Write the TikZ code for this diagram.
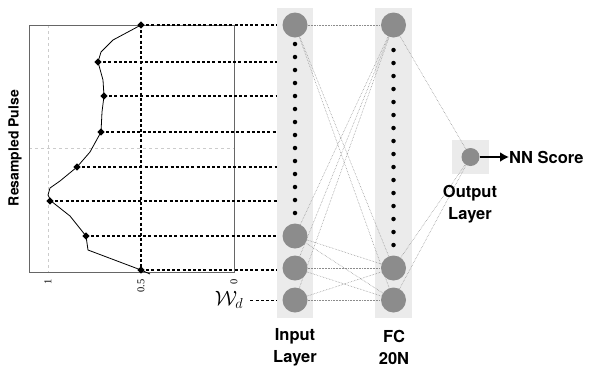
\documentclass[tikz,border=0pt]{standalone}
\usepackage{fontspec}
\setsansfont{TeX Gyre Heros}
\newfontfamily\tickfont{Liberation Serif}
\usetikzlibrary{shapes.geometric,arrows.meta}
\tikzset{
  colbox/.style={fill=black!8, draw=none, inner sep=0},
  neuron/.style={circle, fill=black!45, draw=none, minimum size=25pt, inner sep=0},
  smallneuron/.style={circle, fill=black!45, draw=none, minimum size=18pt, inner sep=0},
  dia/.style={diamond, fill=black, draw=none, minimum size=7.5pt, inner sep=0},
  bdash/.style={draw=black, line width=1.3pt, dash pattern=on 3pt off 2.2pt},
  conn/.style={draw=black!45, line width=0.55pt, densely dotted},
  grid/.style={draw=black!20, line width=0.5pt, dashed},
  lbl/.style={font=\sffamily\bfseries\fontsize{16.5}{22}\selectfont, align=center, inner sep=0},
  tick/.style={font=\tickfont\fontsize{10.5}{12}\selectfont, rotate=90, anchor=east, inner sep=0},
  vdot/.style={circle, fill=black, inner sep=0, minimum size=4.5pt},
}
\begin{document}
\begin{tikzpicture}[x=1pt,y=-1pt]
\useasboundingbox (0,0) rectangle (589,368);
% plot
\draw[grid] (48,25) -- (48,272);
\draw[grid] (29,148) -- (234,148);
\draw[black!60, line width=1pt] (29,25) rectangle (234,272);
\node[tick] (t1) at (48,279) {1};
\node[tick] (t2) at (141,279) {0.5};
\node[tick] (t3) at (234,279) {0};
\node[font=\sffamily\bfseries\fontsize{14}{16}\selectfont, rotate=90, inner sep=0] (ylab) at (15,148) {Resampled Pulse};
% curve
\draw[black, line width=0.8pt] (141,25) -- (113,40) -- (101,52) -- (98,62) -- (103,80) -- (104,96) -- (102,112) -- (101,132) -- (90,152) -- (77,167) -- (60,181) -- (50,188) -- (48,195) -- (51,201) -- (70,216) -- (86,236) -- (88,250) -- (141,270) -- (150,274);
% columns
\node[colbox, minimum width=36pt, minimum height=310pt] (incol) at (295,163) {};
\node[colbox, minimum width=37pt, minimum height=310pt] (fccol) at (393.5,163) {};
\node[colbox, minimum width=37pt, minimum height=34pt] (outcol) at (470.5,157) {};
% neurons
\node[neuron] (i1) at (295,25) {};
\node[neuron] (i2) at (295,236) {};
\node[neuron] (i3) at (295,268) {};
\node[neuron] (i4) at (295,300) {};
\node[neuron] (f1) at (393.5,25) {};
\node[neuron] (f2) at (393.5,268) {};
\node[neuron] (f3) at (393.5,300) {};
\node[smallneuron] (o) at (470.5,157) {};
\foreach \k in {0,...,13} \node[vdot] at (295,44+13*\k) {};
\foreach \k in {0,...,15} \node[vdot] at (393.5,50+13*\k) {};
% connections
\foreach \a in {i1,i2,i3,i4} \foreach \b in {f1,f2,f3} \draw[conn] (\a) -- (\b);
\foreach \b in {f1,f2,f3} \draw[conn] (\b) -- (o);
% diamonds
\node[dia] (d1) at (141,25) {};
\node[dia] (d2) at (98,62) {};
\node[dia] (d3) at (104,96) {};
\node[dia] (d4) at (101,132) {};
\node[dia] (d5) at (77,167) {};
\node[dia] (d6) at (50,201) {};
\node[dia] (d7) at (86,236) {};
\node[dia] (d8) at (141,270) {};
\draw[bdash] (d1.center) -- (d8.center);
\foreach \d in {d1,d2,d3,d4,d5,d6,d7,d8} \draw[bdash] (\d.center) -- (\d.center -| incol.west);
% W_d
\node[inner sep=0, font=\fontsize{20}{24}\selectfont] (wd) at (229,300) {$\mathcal{W}_d$};
\draw[bdash, line width=1pt] ([xshift=7pt]wd.east) -- (wd.east -| incol.west);
% output arrow
\node[lbl, anchor=west] (score) at (509,157) {NN Score};
\draw[line width=2.3pt, -{Latex[length=9pt,width=10pt]}] (o.east) -- (score.west);
% labels
\node[lbl] (inl) at (295,347) {Input\\Layer};
\node[lbl] (fcl) at (394,347) {FC\\20N};
\node[lbl] (outl) at (470,204) {Output\\Layer};
\end{tikzpicture}
\end{document}
